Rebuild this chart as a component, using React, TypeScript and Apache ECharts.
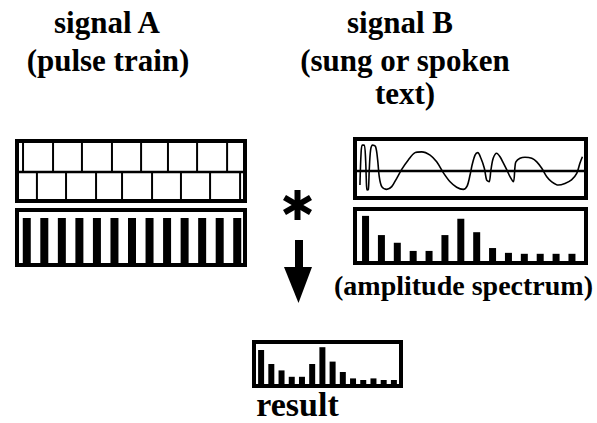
import React, { useEffect, useRef } from "react";
import * as echarts from "echarts";

// ---- data ----
// pulse times (signal A), in % of the displayed window
const pulseUpperT = [1.8, 15.2, 28.1, 41.5, 54.5, 66.5, 79.5, 92.9];
const pulseLowerT = [8.0, 21.0, 34.4, 46.0, 59.4, 72.3, 85.3, 98.7];
// spectrum of pulse train: equal harmonics
const harmonicsA = ["1", "2", "3", "4", "5", "6", "7", "8", "9", "10", "11", "12", "13"];
const spectrumA = [1, 1, 1, 1, 1, 1, 1, 1, 1, 1, 1, 1, 1];
// signal B waveform (time %, amplitude)
const waveT = [1.3, 1.8, 2.3, 3.2, 3.8, 4.1, 4.4, 5.0, 5.4, 6.0, 6.9, 8.2, 9.1, 9.8, 10.9, 13.1, 15.3, 17.5, 19.7, 22.6, 25.6, 28.5, 32.2, 35.1, 38.0, 41.0, 43.9, 46.8, 48.5, 49.8, 50.7, 52.0, 53.2, 54.6, 56.1, 57.1, 58.2, 59.0, 60.0, 61.5, 63.0, 64.5, 66.0, 67.4, 68.9, 69.6, 70.0, 71.8, 74.0, 77.0, 79.2, 81.4, 83.6, 85.8, 88.7, 91.6, 94.5, 96.8, 98.2, 99.3];
const waveA = [-0.52, 0.67, 0.96, 0.96, 0.41, -0.33, -0.7, -0.68, 0.04, 0.78, 0.96, 0.9, 0.41, -0.21, -0.58, -0.68, -0.58, -0.27, 0.06, 0.41, 0.68, 0.71, 0.59, 0.34, -0.06, -0.4, -0.6, -0.68, -0.56, -0.15, 0.22, 0.59, 0.68, 0.47, 0.1, -0.33, -0.4, 0.04, 0.47, 0.66, 0.53, 0.29, 0.04, -0.21, -0.4, 0.16, 0.34, 0.47, 0.51, 0.47, 0.34, 0.1, -0.21, -0.4, -0.52, -0.46, -0.33, -0.09, 0.29, 0.53];
// amplitude spectrum of signal B
const harmonicsB = ["1", "2", "3", "4", "5", "6", "7", "8", "9", "10", "11", "12", "13", "14"];
const spectrumB = [0.94, 0.54, 0.38, 0.21, 0.21, 0.54, 0.88, 0.6, 0.27, 0.17, 0.15, 0.15, 0.15, 0.15];
// result spectrum
const spectrumResult = [0.85, 0.5, 0.34, 0.18, 0.18, 0.5, 0.92, 0.56, 0.3, 0.14, 0.1, 0.14, 0.1, 0.1];

// text labels
const titleLinesA = ["signal A", "(pulse train)"];
const titleLinesB = ["signal B", "(sung or spoken", "text)"];
const spectrumLabel = "(amplitude spectrum)";
const resultLabel = "result";

const FONT = "'Liberation Serif', 'Times New Roman', serif";

export default function App() {
  const ref = useRef<HTMLDivElement>(null);
  useEffect(() => {
    if (!ref.current) return;
    const chart = echarts.init(ref.current, undefined, { renderer: "svg" });

    const grids = [
      { left: 19, top: 143, width: 224, height: 28 }, // 0 A upper ticks
      { left: 19, top: 173, width: 224, height: 26 }, // 1 A lower ticks
      { left: 18, top: 218, width: 228, height: 45 }, // 2 A spectrum
      { left: 357, top: 144, width: 227, height: 54 }, // 3 B wave
      { left: 357.6, top: 213, width: 222.3, height: 48 }, // 4 B spectrum
      { left: 256, top: 344, width: 143, height: 40 }, // 5 result
    ];
    const hidden = { show: false };
    const xAxes = [
      { gridIndex: 0, type: "value", min: 0, max: 100, ...hidden },
      { gridIndex: 1, type: "value", min: 0, max: 100, ...hidden },
      { gridIndex: 2, type: "category", data: harmonicsA, ...hidden },
      { gridIndex: 3, type: "value", min: 0, max: 100, ...hidden },
      { gridIndex: 4, type: "category", data: harmonicsB, ...hidden },
      { gridIndex: 5, type: "category", data: harmonicsB, ...hidden },
    ];
    const yAxes = [
      { gridIndex: 0, type: "value", min: 0, max: 1, ...hidden },
      { gridIndex: 1, type: "value", min: 0, max: 1, ...hidden },
      { gridIndex: 2, type: "value", min: 0, max: 1, ...hidden },
      { gridIndex: 3, type: "value", min: -1, max: 1, ...hidden },
      { gridIndex: 4, type: "value", min: 0, max: 1, ...hidden },
      { gridIndex: 5, type: "value", min: 0, max: 1, ...hidden },
    ];
    const black = { color: "#000" };

    const box = (x: number, y: number, w: number, h: number) => ({
      type: "rect",
      shape: { x, y, width: w, height: h },
      style: { fill: "none", stroke: "#000", lineWidth: 4 },
      z: 100,
    });
    const ttl = (text: string, x: number, y: number, size: number) => ({
      text,
      left: x,
      top: y,
      padding: 0,
      textAlign: "center",
      textStyle: {
        color: "#000",
        fontFamily: FONT,
        fontWeight: "bold",
        fontSize: size,
        lineHeight: size,
      },
    });

    chart.setOption({
      animation: false,
      backgroundColor: "#fff",
      title: [
        ttl(titleLinesA[0], 107, 7, 31),
        ttl(titleLinesA[1], 108, 45, 31),
        ttl(titleLinesB[0], 400, 7, 31),
        ttl(titleLinesB[1], 405, 45, 31),
        ttl(titleLinesB[2], 405, 78, 31),
        ttl(spectrumLabel, 463.5, 271, 28),
        ttl(resultLabel, 297.5, 387, 34),
      ],
      grid: grids,
      xAxis: xAxes,
      yAxis: yAxes,
      series: [
        {
          type: "bar",
          xAxisIndex: 0,
          yAxisIndex: 0,
          barWidth: 2,
          itemStyle: black,
          data: pulseUpperT.map((t) => [t, 1]),
        },
        {
          type: "bar",
          xAxisIndex: 1,
          yAxisIndex: 1,
          barWidth: 2,
          itemStyle: black,
          data: pulseLowerT.map((t) => [t, 1]),
        },
        {
          type: "bar",
          xAxisIndex: 2,
          yAxisIndex: 2,
          barWidth: 8,
          itemStyle: black,
          data: spectrumA,
        },
        {
          type: "line",
          xAxisIndex: 3,
          yAxisIndex: 3,
          showSymbol: false,
          smooth: 0.3,
          lineStyle: { color: "#000", width: 1.6 },
          data: waveT.map((t, i) => [t, waveA[i]]),
        },
        {
          type: "bar",
          xAxisIndex: 4,
          yAxisIndex: 4,
          barWidth: 7,
          itemStyle: black,
          data: spectrumB,
        },
        {
          type: "bar",
          xAxisIndex: 5,
          yAxisIndex: 5,
          barWidth: 6,
          itemStyle: black,
          data: spectrumResult,
        },
      ],
      graphic: [
        box(17, 141, 228, 60),
        box(17, 210, 228, 55),
        box(355, 139, 231, 59),
        box(355, 209, 231, 54),
        box(254, 342, 147, 44),
        {
          type: "line",
          shape: { x1: 19, y1: 172, x2: 243, y2: 172 },
          style: { stroke: "#000", lineWidth: 2.5 },
          z: 100,
        },
        {
          type: "line",
          shape: { x1: 357, y1: 171, x2: 584, y2: 171 },
          style: { stroke: "#000", lineWidth: 2.5 },
          z: 100,
        },
        // convolution asterisk
        {
          type: "line",
          shape: { x1: 297.5, y1: 190, x2: 297.5, y2: 220 },
          style: { stroke: "#000", lineWidth: 6 },
          z: 100,
        },
        {
          type: "line",
          shape: { x1: 284.5, y1: 197.5, x2: 310.5, y2: 212.5 },
          style: { stroke: "#000", lineWidth: 6 },
          z: 100,
        },
        {
          type: "line",
          shape: { x1: 284.5, y1: 212.5, x2: 310.5, y2: 197.5 },
          style: { stroke: "#000", lineWidth: 6 },
          z: 100,
        },
        // arrow
        {
          type: "rect",
          shape: { x: 295, y: 240, width: 8, height: 28 },
          style: { fill: "#000" },
          z: 100,
        },
        {
          type: "polygon",
          shape: { points: [[284, 267], [312, 267], [298.5, 303]] },
          style: { fill: "#000" },
          z: 100,
        },
      ],
    });
    return () => chart.dispose();
  }, []);
  return (
    <div
      ref={ref}
      style={{ position: "fixed", left: 0, top: 0, width: 597, height: 423, background: "#fff" }}
    />
  );
}
